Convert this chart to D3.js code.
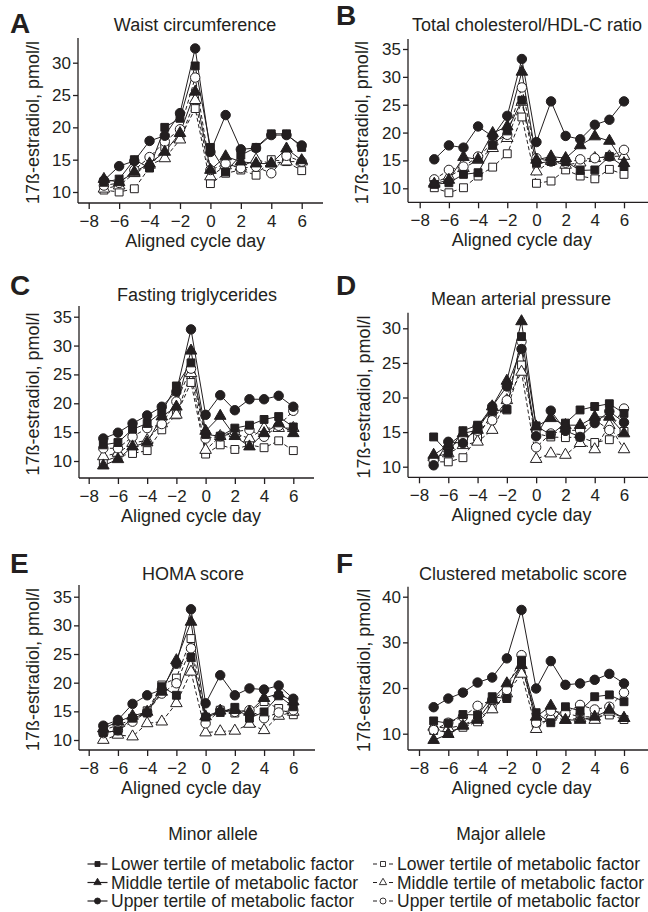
<!DOCTYPE html>
<html>
<head>
<meta charset="utf-8">
<script src="https://cdn.jsdelivr.net/npm/d3@7"></script>
<style>
body { margin: 0; background: #fff; }
svg { display: block; font-family: "Liberation Sans", Arial, sans-serif; }
</style>
</head>
<body>
<script>
// ---- data ----
const days = [-7, -6, -5, -4, -3, -2, -1, 0, 1, 2, 3, 4, 5, 6];
const xTickValues = [-8, -6, -4, -2, 0, 2, 4, 6];

// series order in every panel array:
// minor lower, minor middle, minor upper, major lower, major middle, major upper
const seriesKeys = ["minorLower", "minorMiddle", "minorUpper", "majorLower", "majorMiddle", "majorUpper"];

const panelLetters = ["A", "B", "C", "D", "E", "F"];
const panelTitles = ["Waist circumference", "Total cholesterol/HDL-C ratio", "Fasting triglycerides",
	"Mean arterial pressure", "HOMA score", "Clustered metabolic score"];
const yTickSets = [
	[10, 15, 20, 25, 30],
	[10, 15, 20, 25, 30, 35],
	[10, 15, 20, 25, 30, 35],
	[10, 15, 20, 25, 30],
	[10, 15, 20, 25, 30, 35],
	[10, 20, 30, 40]
];

const waist = [
	[11.5, 12.0, 15.0, 13.7, 20.0, 21.4, 29.5, 16.9, 13.1, 15.7, 16.9, 19.0, 19.0, 16.9],
	[12.0, 11.5, 13.1, 14.4, 16.2, 19.1, 25.5, 13.4, 15.5, 14.7, 14.4, 14.4, 16.7, 14.9],
	[11.8, 14.0, 14.8, 17.9, 18.7, 22.2, 32.2, 16.2, 21.9, 16.6, 16.8, 18.8, 18.8, 17.2],
	[10.3, 10.0, 10.5, 13.8, 17.0, 18.3, 22.9, 11.3, 12.9, 13.4, 12.6, 15.0, 14.7, 13.3],
	[10.5, 11.0, 12.9, 14.2, 15.2, 18.1, 24.2, 12.4, 14.1, 13.9, 15.0, 14.4, 14.7, 14.7],
	[11.0, 11.4, 13.4, 15.4, 17.8, 19.7, 27.7, 13.4, 14.4, 13.7, 13.9, 12.9, 15.6, 14.7]
];
const cholesterol = [
	[10.7, 11.0, 12.5, 12.8, 17.7, 20.3, 25.8, 14.5, 14.8, 14.8, 13.2, 13.3, 15.7, 13.9],
	[10.8, 11.5, 15.6, 15.2, 19.9, 21.1, 30.9, 15.1, 15.7, 15.4, 17.7, 19.3, 18.5, 14.5],
	[15.2, 17.7, 17.3, 21.1, 19.3, 23.0, 33.2, 18.3, 25.6, 19.4, 18.8, 21.4, 22.3, 25.6],
	[10.1, 9.2, 10.1, 12.2, 13.8, 16.2, 22.8, 10.9, 11.3, 13.3, 12.2, 11.7, 13.4, 12.5],
	[11.0, 12.1, 13.6, 15.1, 17.2, 19.0, 25.5, 13.0, 14.9, 14.2, 14.6, 15.4, 15.7, 15.8],
	[11.6, 13.3, 13.9, 15.7, 18.1, 19.6, 28.1, 15.4, 14.8, 14.6, 15.2, 15.4, 15.7, 16.9]
];
const triglycerides = [
	[12.8, 13.2, 15.5, 16.5, 18.5, 23.0, 27.0, 14.6, 14.3, 15.7, 16.2, 17.2, 17.7, 15.9],
	[9.2, 10.3, 12.5, 13.2, 17.7, 19.4, 29.1, 15.2, 17.8, 14.3, 12.5, 14.8, 16.5, 14.8],
	[13.9, 14.9, 16.5, 17.9, 19.4, 22.0, 32.8, 18.0, 21.4, 18.8, 20.7, 20.7, 21.3, 19.4],
	[9.9, 10.8, 11.3, 11.8, 15.4, 18.0, 23.6, 11.2, 12.8, 12.0, 12.8, 12.3, 13.5, 11.8],
	[10.8, 11.4, 13.1, 13.6, 16.5, 18.0, 25.2, 11.9, 14.3, 14.8, 13.9, 15.7, 15.7, 15.7],
	[12.2, 12.2, 14.2, 15.7, 16.4, 20.3, 26.0, 13.9, 14.3, 15.1, 15.4, 14.2, 16.1, 18.7]
];
const pressure = [
	[14.3, 12.0, 15.2, 16.0, 18.0, 18.3, 28.8, 15.9, 14.6, 16.3, 18.2, 18.7, 19.1, 17.7],
	[11.7, 13.1, 14.8, 15.3, 18.7, 22.4, 31.0, 15.8, 17.0, 16.0, 16.0, 17.2, 17.2, 14.8],
	[10.2, 13.6, 13.4, 15.8, 18.7, 21.6, 27.0, 14.4, 18.1, 15.2, 14.3, 16.3, 18.0, 16.4],
	[10.7, 10.7, 11.3, 14.3, 17.7, 18.2, 24.7, 14.8, 14.3, 14.2, 14.3, 13.5, 13.9, 15.1],
	[11.4, 11.9, 13.1, 13.6, 15.3, 19.6, 23.7, 11.1, 11.9, 11.7, 13.4, 12.5, 16.0, 12.5],
	[10.9, 12.8, 14.0, 15.2, 16.7, 19.6, 28.1, 12.8, 14.8, 15.2, 15.3, 16.8, 15.3, 18.4]
];
const homa = [
	[11.3, 11.6, 13.8, 14.7, 19.3, 17.8, 24.4, 14.0, 14.8, 15.7, 13.8, 14.9, 17.7, 15.8],
	[12.0, 13.2, 14.2, 14.9, 18.4, 23.9, 30.6, 14.1, 15.1, 15.2, 14.9, 17.3, 18.1, 16.7],
	[12.5, 13.5, 16.3, 17.8, 18.8, 23.3, 32.8, 16.4, 21.3, 17.8, 19.0, 18.8, 19.5, 17.2],
	[11.7, 12.6, 13.6, 15.1, 19.6, 20.8, 27.7, 13.6, 15.2, 14.7, 14.8, 16.7, 15.5, 14.4],
	[10.0, 10.9, 10.6, 12.9, 13.2, 16.4, 21.9, 11.3, 11.5, 11.6, 12.8, 11.7, 14.2, 14.9],
	[11.2, 11.7, 13.2, 14.9, 18.1, 19.9, 26.0, 12.9, 15.2, 14.9, 15.2, 13.8, 14.8, 15.2]
];
const clustered = [
	[12.8, 12.3, 14.2, 14.1, 18.1, 17.7, 26.1, 14.6, 12.4, 15.9, 15.0, 18.1, 18.5, 17.0],
	[8.6, 9.9, 11.7, 13.0, 17.4, 21.0, 25.0, 13.7, 16.1, 13.0, 13.0, 13.7, 15.2, 13.4],
	[15.8, 17.7, 19.0, 21.2, 22.3, 26.5, 37.1, 19.9, 25.9, 20.7, 21.0, 21.8, 23.1, 21.0],
	[10.7, 10.4, 11.4, 12.6, 15.5, 18.1, 25.4, 12.3, 13.0, 14.5, 13.7, 13.7, 14.1, 13.1],
	[11.5, 11.2, 11.9, 13.4, 15.3, 18.8, 23.1, 11.0, 13.7, 13.0, 13.4, 13.0, 14.8, 13.4],
	[10.8, 12.4, 13.7, 16.1, 17.4, 19.6, 27.2, 12.4, 15.0, 14.5, 16.3, 15.3, 15.9, 19.0]
];
const panelData = [waist, cholesterol, triglycerides, pressure, homa, clustered];

const legendGroups = ["Minor allele", "Major allele"];
const legendLabels = ["Lower tertile of metabolic factor", "Middle tertile of metabolic factor",
	"Upper tertile of metabolic factor"];

// ---- layout ----
const width = 648, height = 912;
const ink = "#231f20";

// pixel frame of each panel (axis corner, tick anchors)
const layout = [
	{ax: 78, right: 323, xa: 88.7, xb: 301.7, bottom: 203, top: 38, ya: 192, yb: 62.7,
		letterX: 10, letterY: 33, titleX: 195, titleY: 31, ylabX: 33},
	{ax: 408, right: 648, xa: 419.7, xb: 624, bottom: 202.3, top: 39, ya: 188.3, yb: 49,
		letterX: 336, letterY: 25, titleX: 527, titleY: 31, ylabX: 362},
	{ax: 79, right: 314, xa: 88.7, xb: 293.3, bottom: 478, top: 306, ya: 461, yb: 316.7,
		letterX: 10, letterY: 295, titleX: 197, titleY: 301, ylabX: 33},
	{ax: 408, right: 648, xa: 419, xb: 624, bottom: 477.3, top: 312.7, ya: 466.7, yb: 328.3,
		letterX: 336, letterY: 295, titleX: 521, titleY: 305, ylabX: 364},
	{ax: 79, right: 315, xa: 88.7, xb: 293.3, bottom: 750, top: 585, ya: 740, yb: 596.7,
		letterX: 10, letterY: 573, titleX: 193, titleY: 580, ylabX: 33},
	{ax: 408, right: 648, xa: 419, xb: 624, bottom: 750, top: 586.7, ya: 733.7, yb: 596.7,
		letterX: 336, letterY: 573, titleX: 523, titleY: 580, ylabX: 364}
];

const svg = d3.select("body")
	.append("svg")
	.attr("width", width)
	.attr("height", height);

const shapeOf = {
	Lower: {type: d3.symbolSquare, size: 62},
	Middle: {type: d3.symbolTriangle, size: 58},
	Upper: {type: d3.symbolCircle, size: 70}
};

function seriesStyle(key) {
	const minor = key.startsWith("minor");
	const tert = key.replace("minor", "").replace("major", "");
	return {minor: minor, shape: shapeOf[tert]};
}

function drawPanel(i) {
	const L = layout[i];
	const ticks = yTickSets[i];
	const g = svg.append("g");

	const x = d3.scaleLinear().domain([-8, 6]).range([L.xa, L.xb]);
	const y = d3.scaleLinear().domain([ticks[0], ticks[ticks.length - 1]]).range([L.ya, L.yb]);

	// axes
	const xAxis = d3.axisBottom(x).tickValues(xTickValues).tickSize(6).tickSizeOuter(0).tickPadding(6);
	const yAxis = d3.axisLeft(y).tickValues(ticks).tickSize(5).tickSizeOuter(0).tickPadding(2);

	const gx = g.append("g")
		.attr("transform", "translate(0," + L.bottom + ")")
		.call(xAxis);
	const gy = g.append("g")
		.attr("transform", "translate(" + L.ax + ",0)")
		.call(yAxis);

	[gx, gy].forEach(a => {
		a.select(".domain").remove();
		a.selectAll("line").attr("stroke", ink).attr("stroke-width", 1.3);
		a.selectAll("text").attr("fill", ink).style("font-size", "17px")
			.style("font-family", "'Liberation Sans', Arial, sans-serif");
	});

	// axis lines reach past the tick range, like the original
	g.append("line")
		.attr("x1", L.ax).attr("x2", L.right)
		.attr("y1", L.bottom).attr("y2", L.bottom)
		.attr("stroke", ink).attr("stroke-width", 1.3);
	g.append("line")
		.attr("x1", L.ax).attr("x2", L.ax)
		.attr("y1", L.top).attr("y2", L.bottom)
		.attr("stroke", ink).attr("stroke-width", 1.3);

	// labels
	g.append("text")
		.attr("x", L.letterX).attr("y", L.letterY)
		.style("font-size", "28px").style("font-weight", "bold")
		.attr("fill", ink)
		.text(panelLetters[i]);
	g.append("text")
		.attr("x", L.titleX).attr("y", L.titleY)
		.attr("text-anchor", "middle")
		.style("font-size", "18px")
		.attr("fill", ink)
		.text(panelTitles[i]);
	g.append("text")
		.attr("x", (L.xa + L.xb) / 2).attr("y", L.bottom + 44)
		.attr("text-anchor", "middle")
		.style("font-size", "18px")
		.attr("fill", ink)
		.text("Aligned cycle day");
	g.append("text")
		.attr("transform", "translate(" + L.ylabX + "," + ((L.top + L.bottom) / 2 + 2) + ") rotate(-90)")
		.attr("text-anchor", "middle")
		.attr("dy", "0.35em")
		.style("font-size", "18px")
		.attr("fill", ink)
		.text("17ß-estradiol, pmol/l");

	const line = d3.line()
		.x((d, j) => x(days[j]))
		.y(d => y(d));

	const rows = panelData[i];
	// major (dashed / open) first, minor on top
	const order = [3, 4, 5, 0, 1, 2];

	order.forEach(s => {
		const st = seriesStyle(seriesKeys[s]);
		g.append("path")
			.attr("d", line(rows[s]))
			.attr("fill", "none")
			.attr("stroke", ink)
			.attr("stroke-width", 1)
			.attr("stroke-dasharray", st.minor ? null : "4,2.5");
	});

	order.forEach(s => {
		const st = seriesStyle(seriesKeys[s]);
		const sym = d3.symbol().type(st.shape.type).size(st.shape.size);
		g.selectAll(null)
			.data(rows[s])
			.enter()
			.append("path")
			.attr("d", sym)
			.attr("transform", (d, j) => "translate(" + x(days[j]) + "," + y(d) + ")")
			.attr("fill", st.minor ? ink : "#fff")
			.attr("stroke", ink)
			.attr("stroke-width", 1);
	});
}

for (let i = 0; i < 6; i++) {
	drawPanel(i);
}

// ---- legend ----
const legend = svg.append("g").style("font-size", "17.5px");
const legendCols = [
	{head: 213, sym: 97.5, text: 111, minor: true},
	{head: 501, sym: 383, text: 397, minor: false}
];
const legendRows = [870, 888.5, 907];
const tertiles = ["Lower", "Middle", "Upper"];

legendCols.forEach((c, ci) => {
	legend.append("text")
		.attr("x", c.head).attr("y", 840)
		.attr("text-anchor", "middle")
		.attr("fill", ink)
		.text(legendGroups[ci]);

	legendLabels.forEach((lab, r) => {
		const yy = legendRows[r];
		const cy = yy - 6;
		legend.append("line")
			.attr("x1", c.sym - 10).attr("x2", c.sym + 10)
			.attr("y1", cy).attr("y2", cy)
			.attr("stroke", ink).attr("stroke-width", 1.2)
			.attr("stroke-dasharray", c.minor ? null : "4,12");
		const shp = shapeOf[tertiles[r]];
		legend.append("path")
			.attr("d", d3.symbol().type(shp.type).size(shp.size * 0.4))
			.attr("transform", "translate(" + c.sym + "," + cy + ")")
			.attr("fill", c.minor ? ink : "#fff")
			.attr("stroke", ink)
			.attr("stroke-width", 0.9);
		legend.append("text")
			.attr("x", c.text).attr("y", yy)
			.attr("fill", ink)
			.text(lab);
	});
});
</script>
</body>
</html>
